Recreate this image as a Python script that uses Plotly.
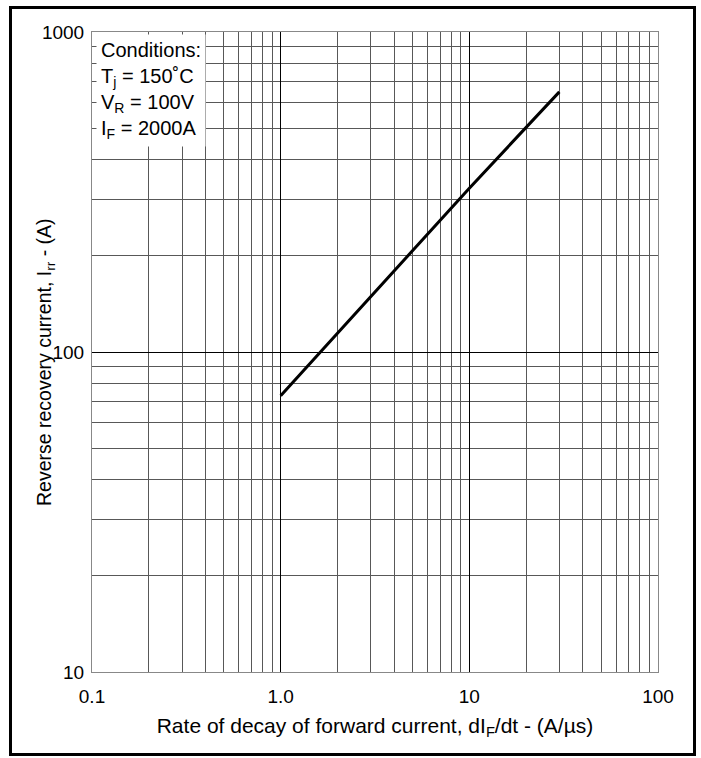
import plotly.graph_objects as go

# Data
didt = [1.0, 10.0, 30.0]          # A/µs
irr = [73.0, 325.0, 650.0]        # A

x_tickvals = [0.1, 1.0, 10, 100]
x_ticktext = ["0.1", "1.0", "10", "100"]
y_tickvals = [10, 100, 1000]
y_ticktext = ["10", "100", "1000"]

conditions = ["Conditions:", "T<sub>j</sub> = 150˚C", "V<sub>R</sub> = 100V", "I<sub>F</sub> = 2000A"]

FONT = "Liberation Sans, Arial, sans-serif"
L, R, T, B = 92, 43, 32, 86
W, H = 701, 758
pw, ph = W - L - R, H - T - B

fig = go.Figure()
fig.add_trace(go.Scatter(x=didt, y=irr, mode="lines",
                         line=dict(color="black", width=3), showlegend=False))

axis_common = dict(
    type="log", showgrid=True, gridcolor="black", gridwidth=1,
    showline=True, linecolor="#888888", linewidth=1, mirror=True,
    ticks="", zeroline=False,
    tickfont=dict(family=FONT, size=19, color="black"),
    minor=dict(showgrid=True, gridcolor="#585858", gridwidth=1, dtick="D1", ticks=""),
)

fig.update_xaxes(**axis_common, range=[-1, 2], tickvals=x_tickvals, ticktext=x_ticktext,
                 ticklabelstandoff=7,
                 title=dict(text="Rate of decay of forward current, dI<sub>F</sub>/dt - (A/µs)",
                            font=dict(family=FONT, size=21, color="black"), standoff=12))
fig.update_yaxes(**axis_common, range=[1, 3], tickvals=y_tickvals, ticktext=y_ticktext,
                 ticklabelstandoff=3)

# y-axis title placed as rotated text
fig.add_annotation(xref="paper", yref="paper", x=(45 - L) / pw, y=(H - B - 362) / ph,
                   xanchor="center", yanchor="middle", textangle=-90, showarrow=False,
                   text="Reverse recovery current, I<sub>rr</sub> - (A)",
                   font=dict(family=FONT, size=19.5, color="black"))

fig.add_annotation(xref="paper", yref="paper", x=0, y=1, xanchor="left", yanchor="top",
                   text="<br>".join(conditions), align="left", showarrow=False,
                   bgcolor="white", borderpad=4, xshift=4, yshift=-2,
                   font=dict(family=FONT, size=20, color="black"))

# outer frame
fig.add_shape(type="rect", xref="paper", yref="paper",
              x0=(10.5 - L) / pw, x1=(694.5 - L) / pw,
              y0=(H - B - 754.5) / ph, y1=(H - B - 7.5) / ph,
              line=dict(color="black", width=3), fillcolor="rgba(0,0,0,0)", layer="above")

fig.update_layout(width=W, height=H, margin=dict(l=L, r=R, t=T, b=B),
                  paper_bgcolor="white", plot_bgcolor="white",
                  font=dict(family=FONT, color="black"))

fig.write_html("out.html")
